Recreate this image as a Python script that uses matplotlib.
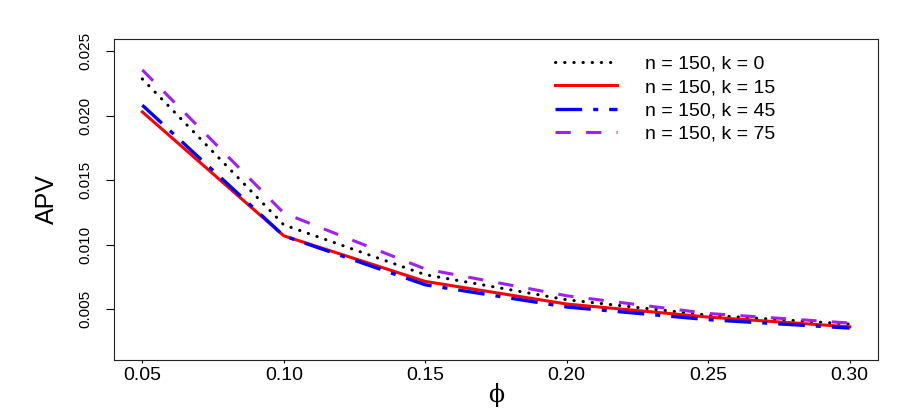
import matplotlib
matplotlib.use("Agg")
import matplotlib.pyplot as plt

plt.rcParams['font.family'] = ['Liberation Sans', 'DejaVu Sans']

# values
phi = [0.05, 0.10, 0.15, 0.20, 0.25, 0.30]
apv_k0 = [0.02283, 0.01154, 0.00768, 0.00574, 0.00455, 0.00386]
apv_k15 = [0.02028, 0.01069, 0.00716, 0.00541, 0.00440, 0.00365]
apv_k45 = [0.02080, 0.01069, 0.00690, 0.00518, 0.00420, 0.00355]
apv_k75 = [0.02353, 0.01245, 0.00812, 0.00605, 0.00468, 0.00394]
labels = ['n = 150, k = 0', 'n = 150, k = 15', 'n = 150, k = 45', 'n = 150, k = 75']
x_ticks = [0.05, 0.10, 0.15, 0.20, 0.25, 0.30]
y_ticks = [0.005, 0.010, 0.015, 0.020, 0.025]

fig = plt.figure(figsize=(9.13, 4.09), dpi=100)
ax = fig.add_axes([114 / 913, 1 - 360 / 409, 764 / 913, 321 / 409])

ax.plot(phi, apv_k0, color='black', lw=2.2, linestyle=(0, (0.1, 2.9)),
        dash_capstyle='round', label=labels[0])
ax.plot(phi, apv_k15, color='red', lw=2.2, label=labels[1])
ax.plot(phi, apv_k45, color='blue', lw=2.4, linestyle=(0, (8, 3.3, 1.5, 3.3)),
        label=labels[2])
ax.plot(phi, apv_k75, color='#A020F0', lw=2.2, linestyle=(0, (5, 5)),
        label=labels[3])

ax.set_xlim(0.04, 0.31)
ax.set_ylim(0.00108, 0.02592)
ax.set_xticks(x_ticks)
ax.set_xticklabels([f'{v:.2f}' for v in x_ticks], fontsize=14)
ax.set_yticks(y_ticks)
ax.set_yticklabels([f'{v:.3f}' for v in y_ticks], fontsize=11,
                   rotation=90, va='center')
ax.tick_params(axis='y', direction='out', length=5.8, width=0.8, pad=10)
ax.tick_params(axis='x', direction='out', length=2.4, width=0.8, pad=3)
for s in ax.spines.values():
    s.set_linewidth(0.8)
    s.set_color('#222222')

ax.set_xlabel('\u03d5', fontsize=17, family=['DejaVu Serif'], labelpad=-1)
ax.set_ylabel('APV', fontsize=18, labelpad=14)

ax.legend(loc='upper left', bbox_to_anchor=(555 / 913, 1 - 55 / 409),
          bbox_transform=fig.transFigure, frameon=False, fontsize=14,
          borderpad=0, borderaxespad=0, handlelength=3.2,
          handletextpad=1.45, labelspacing=0.3)

fig.savefig('out.png', dpi=100)
